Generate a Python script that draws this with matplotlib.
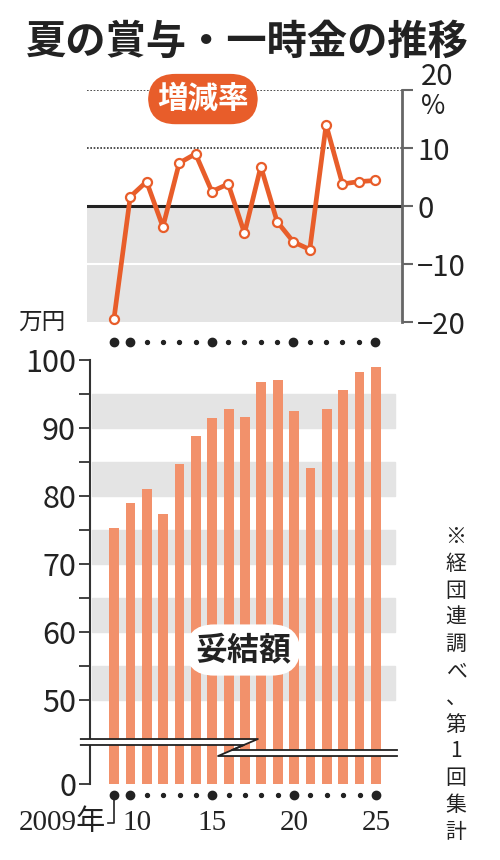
import matplotlib.pyplot as plt
from matplotlib.patches import Polygon

plt.rcParams['font.family'] = ['Noto Sans CJK JP', 'DejaVu Sans']

years = list(range(2009, 2026))
rate = [-19.5, 1.6, 4.2, -3.6, 7.4, 9.0, 2.5, 3.8, -4.7, 6.8,
        -2.7, -6.2, -7.5, 14.0, 3.8, 4.2, 4.4]
amount = [75.3, 79.0, 81.0, 77.3, 84.7, 88.8, 91.4, 92.8, 91.6, 96.7,
          97.1, 92.5, 84.1, 92.8, 95.6, 98.2, 99.0]
rate_ticks = [-20, -10, 0, 10, 20]
rate_labels = ['\u221220', '\u221210', '0', '10', '']
amount_ticks = [50, 60, 70, 80, 90, 100]
year_labels = ['10', '15', '20', '25']
big_dot_years = [2009, 2010, 2015, 2020, 2025]

ORANGE = '#E85D2A'
BAR = '#F2916B'
GREY = '#E4E4E4'
W, H = 500, 860


def fx(px):
    return px / W


def fy(px):
    return 1 - px / H


fig = plt.figure(figsize=(5, 8.6), dpi=100)

fig.text(fx(247), fy(42), '夏の賞与・一時金の推移', fontsize=29,
         fontweight='bold', ha='center', va='center', color='#222')

# ---- top: rate of change
ax1 = fig.add_axes([fx(87), fy(322), fx(402) - fx(87), fy(90) - fy(322)])
ax1.set_xlim(2007.35, 2026.65)
ax1.set_ylim(-20, 20)
ax1.axhspan(-20, 0, color=GREY, zorder=0)
ax1.axhline(-10, color='white', lw=1.5, zorder=1)
ax1.axhline(0, color='#222', lw=2.2, zorder=2)
for v in [10, 20]:
    ax1.axhline(v, color='#333', lw=1.2, ls=(0, (1, 1)), zorder=1)
ax1.plot(years, rate, color=ORANGE, lw=3.4, marker='o', ms=6.5,
         mfc='white', mec=ORANGE, mew=1.6, zorder=4, clip_on=False)
for s in ['left', 'top', 'bottom']:
    ax1.spines[s].set_visible(False)
ax1.spines['right'].set_color('#666')
ax1.spines['right'].set_linewidth(2)
ax1.yaxis.tick_right()
ax1.set_yticks(rate_ticks)
ax1.set_yticklabels(rate_labels)
ax1.tick_params(axis='y', length=8, width=1.5, color='#666', labelsize=21,
                labelcolor='#222', pad=3)
ax1.set_xticks([])
ax1.text(0.368, 0.961, '増減率', transform=ax1.transAxes, fontsize=22,
         fontweight='bold', color='white', ha='center', va='center', zorder=6,
         bbox=dict(boxstyle='round,pad=0.3,rounding_size=0.9',
                   fc=ORANGE, ec='none'))
fig.text(fx(437), fy(77), '20', fontsize=21, ha='center', va='center',
         color='#222')
fig.text(fx(433), fy(106), '%', fontsize=19, ha='center', va='center',
         color='#222')

# year dots under top panel
for yr in years:
    big = yr in big_dot_years
    ax1.plot(yr, -23.5, 'o', color='#222', ms=6 if big else 2.8,
             clip_on=False)

# ---- bottom: amount
y0 = 37.65
ax2 = fig.add_axes([fx(90), fy(784), fx(397) - fx(90), fy(360) - fy(784)])
ax2.set_xlim(2007.53, 2026.29)
ax2.set_ylim(y0, 100)
for b in [50, 60, 70, 80, 90]:
    ax2.axhspan(b, b + 5, xmin=0.007, xmax=0.993, color=GREY, zorder=0)
ax2.bar(years, [a - y0 for a in amount], bottom=y0, width=0.6,
        color=BAR, zorder=2)
for s in ['right', 'top', 'bottom']:
    ax2.spines[s].set_visible(False)
ax2.spines['left'].set_color('#333')
ax2.spines['left'].set_linewidth(1.5)
ax2.set_yticks([y0] + amount_ticks)
ax2.set_yticklabels(['0'] + [str(t) for t in amount_ticks])
ax2.set_yticks([55, 65, 75, 85, 95], minor=True)
ax2.tick_params(axis='y', which='both', length=8, width=1.3, color='#333',
                labelsize=22, labelcolor='#222', pad=2)
ax2.set_xticks([])

# axis break
top_edge = [(-0.03, 0.1061), (0.547, 0.1061), (0.4625, 0.0802), (1.0, 0.0802)]
bot_edge = [(-0.03, 0.0920), (0.5016, 0.0920), (0.417, 0.0660), (1.0, 0.0660)]
ax2.add_patch(Polygon(top_edge + bot_edge[::-1], closed=True,
                      transform=ax2.transAxes, fc='white', ec='none',
                      zorder=5, clip_on=False))
for edge in [top_edge, bot_edge]:
    xs, ys = zip(*edge)
    ax2.plot(xs, ys, color='#222', lw=1.3, transform=ax2.transAxes,
             zorder=6, clip_on=False)

ax2.text(0.498, 0.316, '妥結額', transform=ax2.transAxes, fontsize=23,
         fontweight='bold', color='#222', ha='center', va='center', zorder=6,
         bbox=dict(boxstyle='round,pad=0.3,rounding_size=0.9',
                   fc='white', ec='none'))
fig.text(fx(42), fy(322), '万円', fontsize=17, ha='center', va='center',
         color='#222')

# year dots and labels under bottom panel
ydot = y0 - 11 / 6.8
ylab = y0 - 39 / 6.8
for yr in years:
    big = yr in big_dot_years
    ax2.plot(yr, ydot, 'o', color='#222', ms=6 if big else 2.8,
             clip_on=False)
serif = ['Liberation Serif', 'Noto Sans CJK JP']
ax2.plot([years[0], years[0], years[0] - 0.35], [ydot, ylab, ylab],
         color='#222', lw=1.2, clip_on=False)
ax2.text(years[0] - 0.5, ylab, '2009年', fontsize=21, family=serif,
         ha='right', va='center', color='#222')
for lab, yr in zip(year_labels, [2010, 2015, 2020, 2025]):
    off = 0.4 if yr == 2010 else 0
    ax2.text(yr + off, ylab, lab, fontsize=21, family=serif,
             ha='center', va='center', color='#222')

# vertical note
note = '※経団連調べ、第1回集計'
for i, ch in enumerate(note):
    fig.text(fx(456), fy(537 + i * 26.8), ch, fontsize=15, ha='center',
             va='center', color='#222')

fig.savefig('out.png', dpi=100)
